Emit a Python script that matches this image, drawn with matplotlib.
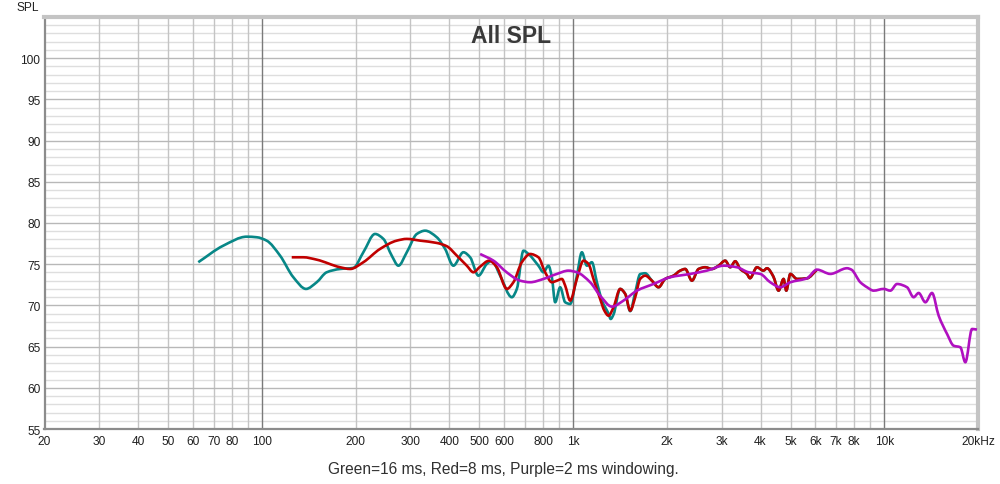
import math
import matplotlib
matplotlib.use("Agg")
import matplotlib.pyplot as plt
from matplotlib.path import Path
from matplotlib.patches import PathPatch
from matplotlib.ticker import FixedLocator, NullFormatter

plt.rcParams['font.family'] = ['Liberation Sans', 'DejaVu Sans']

# ---------------- data ----------------
green_f = [62.4, 75.1, 89.3, 96.2, 103.5, 114.3, 126.1, 138.5, 149.9, 161.4, 178.2, 196.6,
           211.7, 230.8, 245.5, 261.2, 274.4, 292.0, 314.5, 334.3, 364.5, 387.7, 412.2,
           443.9, 466.5, 496.1, 527.9, 547.9, 582.5, 635.2, 659.2, 692.2, 718.3, 773.2,
           802.6, 832.9, 854.1, 875.3, 908.3, 942.6, 978.0, 1027.8, 1066.6, 1106.8,
           1148.4, 1192, 1240, 1299, 1320, 1348, 1416, 1470, 1525, 1583, 1642, 1704]
green_db = [75.24, 77.25, 78.34, 78.27, 77.86, 76.04, 73.42, 72.0, 72.81, 74.02, 74.42, 74.55,
            76.45, 78.67, 78.07, 76.04, 74.82, 76.45, 78.67, 79.07, 78.27, 76.85, 74.82,
            76.45, 75.84, 73.61, 75.03, 75.43, 73.61, 70.99, 72.0, 76.64, 76.24, 74.82,
            74.02, 74.82, 73.42, 70.38, 72.2, 70.38, 70.17, 73.61, 76.45, 74.82,
            75.24, 72.81, 70.5, 69.0, 68.35, 68.9, 72.0, 71.4, 69.3, 71.6, 73.8, 73.9]

red_f = [124.6, 135.7, 149.9, 178.2, 191.9, 211.7, 239.5, 271.1, 292.0, 322.2, 364.5,
         392.6, 422.7, 455.2, 478.0, 502.3, 537.0, 568.5, 612.3, 642.7, 683.9, 727.3,
         773.2, 812.8, 854.1, 886.4, 919.9, 942.6, 978.0, 1027.8, 1079.3, 1120, 1162,
         1221, 1260, 1299, 1348, 1416, 1470, 1525, 1583, 1642, 1704, 1791, 1881, 1976,
         2101, 2208, 2292, 2408, 2529, 2657, 2792, 2932, 3081, 3197, 3318, 3443, 3618,
         3700, 3896, 4086, 4197, 4400, 4572, 4745, 4841, 4987, 5240, 5641, 6075]
red_db = [75.84, 75.84, 75.55, 74.63, 74.42, 75.24, 76.85, 77.86, 78.07, 77.86, 77.58,
          77.18, 76.04, 74.82, 74.02, 74.7, 75.43, 74.63, 72.0, 72.81, 75.24, 76.24,
          75.84, 74.02, 72.81, 73.0, 73.21, 72.4, 70.58, 73.21, 75.43, 75.03, 73.21,
          70.78, 69.36, 68.75, 69.77, 72.0, 71.39, 69.36, 70.99, 73.21, 73.61, 73.0, 72.2, 73.21,
          73.61, 74.22, 74.42, 73.0, 74.42, 74.63, 74.42, 74.82, 75.43, 74.63, 75.36, 74.42, 73.82,
          73.3, 74.63, 74.22, 74.51, 73.5, 71.79, 73.21, 71.79, 73.82, 73.21, 73.29, 74.34]

purple_f = [502.3, 554.4, 612.3, 675.4, 727.3, 802.6, 886.4, 965.9, 1027.8, 1134, 1221,
            1332, 1451, 1603, 1812, 2051, 2378, 2691, 3043, 3360, 3662, 3994, 4299, 4630,
            4987, 5641, 6075, 6706, 7588, 7835, 8372, 8800, 9240, 9947, 10454, 10985,
            11830, 12420, 12890, 13550, 14230, 14950, 15910, 16700, 17550, 18210, 19140,
            19850]
purple_db = [76.24, 75.43, 74.0, 73.0, 72.81, 73.21, 73.82, 74.22, 74.02, 72.81, 71.18,
             69.85, 70.58, 71.79, 72.6, 73.42, 73.82, 74.22, 74.82, 74.63, 74.02, 73.82, 72.81, 72.2,
             72.81, 73.29, 74.34, 73.82, 74.51, 74.34, 72.81, 72.2, 71.79, 72.0, 71.79, 72.6,
             72.2, 70.99, 71.51, 70.38, 71.51, 68.75, 66.53, 65.11, 64.92, 63.1, 67.14,
             67.06]

# green above 1.7 kHz lies under red
green_f = green_f + red_f[red_f.index(1791):]
green_db = green_db + red_db[red_f.index(1791):]

xtick_vals = [20, 30, 40, 50, 60, 70, 80, 100, 200, 300, 400, 500, 600, 800, 1000, 2000,
              3000, 4000, 5000, 6000, 7000, 8000, 10000, 20000]
xtick_labels = ["20", "30", "40", "50", "60", "70", "80", "100", "200", "300", "400", "500",
                "600", "800", "1k", "2k", "3k", "4k", "5k", "6k", "7k", "8k", "10k", "20kHz"]
ytick_vals = [55, 60, 65, 70, 75, 80, 85, 90, 95, 100]


def smooth_path(fs, dbs):
    """Bezier path through the read points (drawing style only, log-x)."""
    xs = [math.log10(f) for f in fs]
    ys = list(dbs)
    n = len(xs)
    h = [xs[i + 1] - xs[i] for i in range(n - 1)]
    d = [(ys[i + 1] - ys[i]) / h[i] for i in range(n - 1)]
    m = [0.0] * n
    m[0], m[-1] = d[0], d[-1]
    for i in range(1, n - 1):
        if d[i - 1] * d[i] <= 0:
            m[i] = 0.0
        else:
            w1 = 2 * h[i] + h[i - 1]
            w2 = h[i] + 2 * h[i - 1]
            m[i] = (w1 + w2) / (w1 / d[i - 1] + w2 / d[i])
    verts = [(fs[0], ys[0])]
    codes = [Path.MOVETO]
    for i in range(n - 1):
        verts.append((10 ** (xs[i] + h[i] / 3), ys[i] + m[i] * h[i] / 3))
        verts.append((10 ** (xs[i + 1] - h[i] / 3), ys[i + 1] - m[i + 1] * h[i] / 3))
        verts.append((fs[i + 1], ys[i + 1]))
        codes += [Path.CURVE4] * 3
    return Path(verts, codes)


# ---------------- figure ----------------
fig = plt.figure(figsize=(10, 4.85), dpi=100)
fig.patch.set_facecolor('white')
ax = fig.add_axes([0.0445, 0.1134, 0.9335, 0.8495])
ax.set_xscale('log')
ax.set_xlim(20, 20000)
ax.set_ylim(55, 105)

# grid
grid_minor_x = [f * d for d in (10, 100, 1000) for f in range(2, 10)]
for v in sorted(set(grid_minor_x)):
    if 20 < v < 20000:
        ax.axvline(v, color='#c4c4c4', lw=1.0, zorder=1)
for v in (100, 1000, 10000):
    ax.axvline(v, color='#7a7a7a', lw=1.0, zorder=1.5)
for v in range(56, 105):
    if v % 5:
        ax.axhline(v, color='#dedede', lw=1.0, zorder=0.9)
    else:
        ax.axhline(v, color='#b8b8b8', lw=1.0, zorder=1)

for fs, dbs, col, z in ((green_f, green_db, '#078787', 3),
                        (red_f, red_db, '#c00000', 4),
                        (purple_f, purple_db, '#b010c0', 5)):
    ax.add_patch(PathPatch(smooth_path(fs, dbs), fill=False, edgecolor=col, lw=1.9,
                           capstyle='butt', joinstyle='round', zorder=z,
                           transform=ax.transData))

ax.xaxis.set_major_locator(FixedLocator(xtick_vals))
ax.set_xticklabels(xtick_labels)
ax.xaxis.set_minor_formatter(NullFormatter())
ax.xaxis.set_minor_locator(FixedLocator([]))
ax.set_yticks(ytick_vals)
ax.tick_params(axis='both', which='both', length=0, labelsize=8.6, colors='#202020', pad=4)
ax.tick_params(axis='y', pad=3)

for s in ('left', 'bottom'):
    ax.spines[s].set_color('#8c8c8c')
    ax.spines[s].set_linewidth(1.6)
for s in ('top', 'right'):
    ax.spines[s].set_color('#c4c4c4')
    ax.spines[s].set_linewidth(3.0)

ax.text(0.5, 0.939, "All SPL", transform=ax.transAxes, ha='center', va='baseline',
        fontsize=16.5, fontweight='bold', color='#3a3a3a', zorder=6)
fig.text(0.028, 0.995, "SPL", ha='center', va='top', fontsize=8.6, color='#202020')
fig.text(0.503, 0.031, "Green=16 ms, Red=8 ms, Purple=2 ms windowing.", ha='center',
         va='center', fontsize=11.2, color='#303030')

fig.savefig('out.png', dpi=100)
